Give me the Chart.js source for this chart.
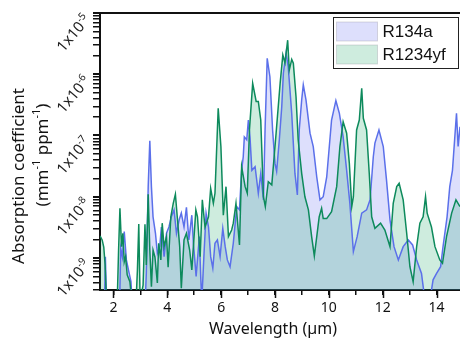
<!DOCTYPE html>
<html>
<head>
<meta charset="utf-8">
<script src="https://cdn.jsdelivr.net/npm/chart.js@4.4.0/dist/chart.umd.min.js"></script>
<style>
  html, body { margin: 0; padding: 0; background: #fff; }
  #wrap { width: 460px; height: 347px; position: relative; }
</style>
</head>
<body>
<div id="wrap"><canvas id="spectrum"></canvas></div>
<script>
// R134a absorption spectrum (wavelength in µm, coefficient in mm^-1 ppm^-1)
const r134aWavelength = [
  1.5, 1.67, 1.70, 1.74, 2.23, 2.27, 2.33, 2.40, 2.48, 2.57,
  2.65, 2.69, 3.18, 3.22, 3.29, 3.35, 3.41, 3.47, 3.56, 3.63,
  3.72, 3.78, 3.88, 3.97, 4.06, 4.15, 4.25, 4.34, 4.44, 4.52,
  4.62, 4.71, 4.80, 4.91, 4.97, 5.07, 5.19, 5.24, 5.28, 5.37,
  5.44, 5.53, 5.61, 5.69, 5.77, 5.86, 5.96, 6.06, 6.15, 6.23,
  6.33, 6.45, 6.58, 6.68, 6.76, 6.82, 6.86, 6.95, 7.01, 7.07,
  7.14, 7.26, 7.38, 7.47, 7.57, 7.63, 7.71, 7.81, 7.91, 8.00,
  8.06, 8.16, 8.25, 8.31, 8.41, 8.49, 8.62, 8.74, 8.83, 8.90,
  8.99, 9.05, 9.15, 9.30, 9.42, 9.55, 9.67, 9.79, 9.92, 10.10,
  10.26, 10.39, 10.53, 10.66, 10.78, 10.91, 11.05, 11.22, 11.40, 11.53,
  11.65, 11.71, 11.86, 12.02, 12.14, 12.27, 12.42, 12.58, 12.76, 12.95,
  13.11, 13.26, 13.44, 13.57, 13.75, 13.87, 14.00, 14.15, 14.24, 14.39,
  14.49, 14.59, 14.67, 14.74, 14.80, 14.87
];
const r134aAbsorption = [
  2e-10, 2e-10, 1.05e-9, 2e-10, 2e-10, 1.44e-9, 1.04e-9, 2.7e-9, 9.3e-10, 6.0e-10,
  4.1e-10, 2e-10, 2e-10, 5.6e-10, 1.46e-8, 8.2e-8, 1.46e-8, 4.7e-9, 2.53e-9, 1.19e-9,
  1.53e-9, 3.2e-9, 1.05e-9, 2.53e-9, 3.2e-9, 4.7e-9, 6.1e-9, 2.53e-9, 4.2e-9, 5.4e-9,
  3.2e-9, 6.7e-9, 1.97e-9, 5.0e-9, 1.74e-9, 5.0e-10, 2.23e-9, 5.0e-10, 2e-10, 1.35e-9,
  5.4e-9, 3.2e-9, 1.05e-9, 6.8e-10, 1.74e-9, 1.97e-9, 1.05e-9, 3.05e-9, 1.53e-9, 9.3e-10,
  7.2e-10, 1.74e-9, 6.9e-9, 6.1e-9, 2.7e-8, 4.5e-8, 9.5e-8, 8.5e-8, 1.79e-7, 9.5e-8,
  2.7e-8, 3.1e-8, 1.14e-8, 2.4e-8, 8.9e-9, 1.23e-7, 1.82e-6, 9.1e-7, 1.23e-7, 3.5e-8,
  2.6e-8, 8.5e-8, 2.95e-7, 1.04e-6, 2.2e-6, 1.33e-6, 2.3e-7, 2.4e-8, 1.07e-8, 1.23e-7,
  3.8e-7, 6.7e-7, 3.8e-7, 1.09e-7, 6.6e-8, 2.1e-8, 8.9e-9, 1.0e-8, 2.1e-8, 1.79e-7,
  3.7e-7, 2.3e-7, 9.5e-8, 2.7e-8, 7.8e-9, 1.27e-9, 2.23e-9, 5.4e-9, 6.1e-9, 8.9e-9,
  4.5e-8, 7.5e-8, 1.23e-7, 6.6e-8, 1.88e-8, 4.2e-9, 1.53e-9, 9.3e-10, 1.53e-9, 1.97e-9,
  1.63e-9, 9.3e-10, 5.6e-10, 2e-10, 2e-10, 4.4e-10, 5.6e-10, 7.2e-10, 1.53e-9, 4.7e-9,
  1.46e-8, 2.7e-8, 8.5e-8, 2.3e-7, 6.6e-8, 1.39e-7
];

// R1234yf absorption spectrum
const r1234yfWavelength = [
  1.5, 1.58, 1.64, 1.69, 1.74, 2.14, 2.19, 2.24, 2.30, 2.35,
  2.40, 2.45, 2.51, 2.61, 2.68, 2.84, 2.89, 2.94, 2.99, 3.10,
  3.17, 3.22, 3.29, 3.35, 3.41, 3.47, 3.54, 3.63, 3.68, 3.76,
  3.81, 3.88, 3.97, 4.03, 4.13, 4.22, 4.30, 4.40, 4.46, 4.52,
  4.62, 4.71, 4.83, 4.91, 5.06, 5.12, 5.22, 5.30, 5.40, 5.53,
  5.61, 5.71, 5.77, 5.89, 5.99, 6.08, 6.18, 6.27, 6.39, 6.45,
  6.55, 6.68, 6.76, 6.89, 6.97, 7.05, 7.17, 7.30, 7.38, 7.47,
  7.57, 7.64, 7.75, 7.88, 8.04, 8.19, 8.29, 8.37, 8.47, 8.53,
  8.62, 8.68, 8.78, 8.86, 8.99, 9.11, 9.24, 9.36, 9.46, 9.55,
  9.64, 9.73, 9.79, 9.92, 10.10, 10.29, 10.41, 10.53, 10.66, 10.76,
  10.85, 10.91, 11.03, 11.13, 11.22, 11.28, 11.40, 11.50, 11.59, 11.71,
  11.92, 12.08, 12.27, 12.39, 12.52, 12.61, 12.76, 12.89, 13.01, 13.13,
  13.26, 13.38, 13.50, 13.59, 13.65, 13.81, 13.94, 14.12, 14.22, 14.37,
  14.56, 14.72, 14.87
];
const r1234yfAbsorption = [
  2.29e-9, 1.97e-9, 1.51e-9, 7.7e-10, 2e-10, 2e-10, 1.35e-9, 6.5e-9, 1.53e-9, 2.53e-9,
  8.6e-10, 1.05e-9, 5.3e-10, 4.1e-10, 2e-10, 2e-10, 6.4e-10, 3.6e-9, 2e-10, 3.6e-10,
  3.55e-9, 7.7e-10, 1.1e-8, 1.35e-9, 3.4e-10, 1.35e-9, 1.04e-9, 3.9e-10, 1.74e-9, 9.3e-10,
  3.7e-9, 1.53e-9, 2.23e-9, 7.1e-10, 4.7e-9, 7.8e-9, 1.1e-8, 3.2e-9, 1.53e-9, 3.2e-10,
  1.97e-9, 2.53e-9, 1.35e-9, 6.4e-10, 6.1e-9, 4.7e-9, 1.05e-9, 8.9e-9, 3.2e-9, 4.7e-9,
  1.37e-8, 7.8e-9, 1.14e-8, 2.78e-7, 6.6e-8, 5.0e-9, 1.46e-8, 2.23e-9, 2.86e-9, 3.7e-9,
  7.8e-9, 1.63e-9, 3.1e-8, 1.46e-8, 1.14e-8, 1.23e-7, 7.1e-7, 3.6e-7, 3.6e-7, 1.79e-7,
  1.0e-8, 6.9e-9, 1.76e-8, 1.56e-8, 1.09e-7, 7.1e-7, 2.06e-6, 1.53e-6, 3.6e-6, 1.17e-6,
  1.75e-6, 1.51e-6, 4.3e-7, 8.5e-8, 2.4e-8, 1.0e-8, 6.1e-9, 2.23e-9, 1.08e-9, 2.23e-9,
  4.7e-9, 6.5e-9, 4.4e-9, 4.4e-9, 5.7e-9, 1.46e-8, 6.6e-8, 1.68e-7, 1.09e-7, 3.5e-8,
  6.9e-9, 1.0e-8, 1.23e-7, 1.79e-7, 5.9e-7, 1.91e-7, 1.23e-7, 2.4e-8, 4.7e-9, 3.05e-9,
  3.7e-9, 2.86e-9, 1.53e-9, 7.8e-9, 1.46e-8, 1.66e-8, 8.9e-9, 2.53e-9, 7.2e-10, 4.1e-10,
  1.53e-9, 3.7e-9, 4.7e-9, 1.0e-8, 5.4e-9, 3.2e-9, 1.53e-9, 9.3e-10, 8.2e-10, 2.23e-9,
  5.4e-9, 8.9e-9, 6.9e-9
];

// decade tick positions and their exponent labels
const yDecades = [1e-9, 1e-8, 1e-7, 1e-6, 1e-5];
const yExponents = ['-9', '-8', '-7', '-6', '-5'];

const toPoints = (xs, ys) => xs.map((x, i) => ({ x: x, y: ys[i] }));

const TEXT_FONT = '"Noto Sans", "Open Sans", sans-serif';

// frame, rotated tick labels, axis titles and legend box
const decorations = {
  id: 'decorations',
  afterDraw(chart) {
    const ctx = chart.ctx;
    const area = chart.chartArea;
    const xs = chart.scales.x;
    const ys = chart.scales.y;
    ctx.save();

    // top frame line
    ctx.strokeStyle = '#111';
    ctx.lineWidth = 2;
    ctx.beginPath();
    ctx.moveTo(area.left - 1, area.top);
    ctx.lineTo(area.right, area.top);
    ctx.stroke();

    // longer ticks on labelled x values
    ctx.lineWidth = 1.5;
    xs.ticks.forEach(t => {
      if (t.value % 2 === 0) {
        const px = Math.round(xs.getPixelForValue(t.value)) + 0.5;
        ctx.beginPath();
        ctx.moveTo(px, area.bottom);
        ctx.lineTo(px, area.bottom + 8);
        ctx.stroke();
      }
    });

    // y labels: 1x10^n, slanted
    ctx.fillStyle = '#222';
    yDecades.forEach((v, i) => {
      const py = ys.getPixelForValue(v);
      ctx.save();
      ctx.translate(91, py + 7);
      ctx.rotate(-50 * Math.PI / 180);
      ctx.font = '15px ' + TEXT_FONT;
      const base = '1x10';
      const wb = ctx.measureText(base).width;
      ctx.font = '10px ' + TEXT_FONT;
      const ws = ctx.measureText(yExponents[i]).width;
      ctx.textAlign = 'left';
      ctx.textBaseline = 'alphabetic';
      ctx.fillText(yExponents[i], -ws, -6);
      ctx.font = '15px ' + TEXT_FONT;
      ctx.fillText(base, -ws - wb, 0);
      ctx.restore();
    });

    // y title, two lines
    ctx.fillStyle = '#111';
    ctx.save();
    ctx.translate(19, 176);
    ctx.rotate(-Math.PI / 2);
    ctx.font = '17px ' + TEXT_FONT;
    ctx.textAlign = 'center';
    ctx.textBaseline = 'middle';
    ctx.fillText('Absorption coefficient', 0, 0);
    ctx.restore();

    ctx.save();
    ctx.translate(43, 155);
    ctx.rotate(-Math.PI / 2);
    ctx.textBaseline = 'middle';
    const parts = [['(mm', 17, 0], ['-1', 11, -6], [' ppm', 17, 0], ['-1', 11, -6], [')', 17, 0]];
    let total = 0;
    parts.forEach(p => { ctx.font = p[1] + 'px ' + TEXT_FONT; total += ctx.measureText(p[0]).width; });
    let cx = -total / 2;
    parts.forEach(p => {
      ctx.font = p[1] + 'px ' + TEXT_FONT;
      ctx.fillText(p[0], cx, p[2]);
      cx += ctx.measureText(p[0]).width;
    });
    ctx.restore();

    // x title
    ctx.font = '16px ' + TEXT_FONT;
    ctx.textAlign = 'center';
    ctx.textBaseline = 'middle';
    ctx.fillText('Wavelength (\u00b5m)', (area.left + area.right) / 2 - 7, 329);

    // legend
    const lx = 333.5, ly = 17.5, lw = 125, lh = 51;
    ctx.fillStyle = '#fff';
    ctx.fillRect(lx, ly, lw, lh);
    ctx.strokeStyle = '#222';
    ctx.lineWidth = 1;
    ctx.strokeRect(lx, ly, lw, lh);
    chart.data.datasets.forEach((ds, i) => {
      const sy = ly + 4.5 + i * 23;
      ctx.fillStyle = ds.backgroundColor;
      ctx.fillRect(lx + 3, sy, 41, 19);
      ctx.strokeStyle = 'rgba(150,150,160,0.35)';
      ctx.strokeRect(lx + 3, sy, 41, 19);
      ctx.fillStyle = '#111';
      ctx.font = '17px "Liberation Sans", Arial, sans-serif';
      ctx.textAlign = 'left';
      ctx.textBaseline = 'middle';
      ctx.fillText(ds.label, lx + 49, sy + 10);
    });

    ctx.restore();
  }
};

new Chart(document.getElementById('spectrum'), {
  type: 'line',
  data: {
    datasets: [
      {
        label: 'R134a',
        data: toPoints(r134aWavelength, r134aAbsorption),
        borderColor: '#5b70ea',
        backgroundColor: 'rgba(100,110,240,0.22)',
        borderWidth: 1.5,
        pointRadius: 0,
        fill: 'start',
        order: 1
      },
      {
        label: 'R1234yf',
        data: toPoints(r1234yfWavelength, r1234yfAbsorption),
        borderColor: '#0d8a5c',
        backgroundColor: 'rgba(11,158,92,0.2)',
        borderWidth: 1.5,
        pointRadius: 0,
        fill: 'start',
        order: 0
      }
    ]
  },
  options: {
    responsive: true,
    maintainAspectRatio: false,
    animation: false,
    devicePixelRatio: 1,
    layout: { padding: { top: 13, left: 0, right: 0, bottom: 0 } },
    plugins: {
      legend: { display: false },
      tooltip: { enabled: false },
      filler: { drawTime: 'beforeDatasetsDraw' }
    },
    scales: {
      x: {
        type: 'linear',
        min: 1.5,
        max: 14.87,
        afterFit: s => { s.height = 57; },
        border: { color: '#111', width: 2 },
        grid: { drawOnChartArea: false, drawTicks: true, tickLength: 5, color: '#111', lineWidth: 1.5 },
        ticks: {
          stepSize: 1,
          includeBounds: false,
          autoSkip: false,
          maxRotation: 0,
          padding: 5,
          color: '#111',
          font: { family: TEXT_FONT, size: 14 },
          callback: v => (v % 2 === 0 ? v : '')
        }
      },
      y: {
        type: 'logarithmic',
        min: 3e-10,
        max: 1e-5,
        afterFit: s => { s.width = 100; },
        afterBuildTicks: s => {
          // keep 1..9 x 10^n ticks only
          s.ticks = s.ticks.filter(t => {
            const m = t.value / Math.pow(10, Math.floor(Math.log10(t.value) + 1e-9));
            return Math.abs(m - Math.round(m)) < 1e-6;
          });
        },
        border: { color: '#111', width: 2 },
        grid: {
          drawOnChartArea: false,
          drawTicks: true,
          tickLength: 7,
          color: '#111',
          lineWidth: c => (c.tick && c.tick.major ? 2 : 1.5)
        },
        ticks: { display: false, autoSkip: false }
      }
    }
  },
  plugins: [decorations]
});
</script>
</body>
</html>
